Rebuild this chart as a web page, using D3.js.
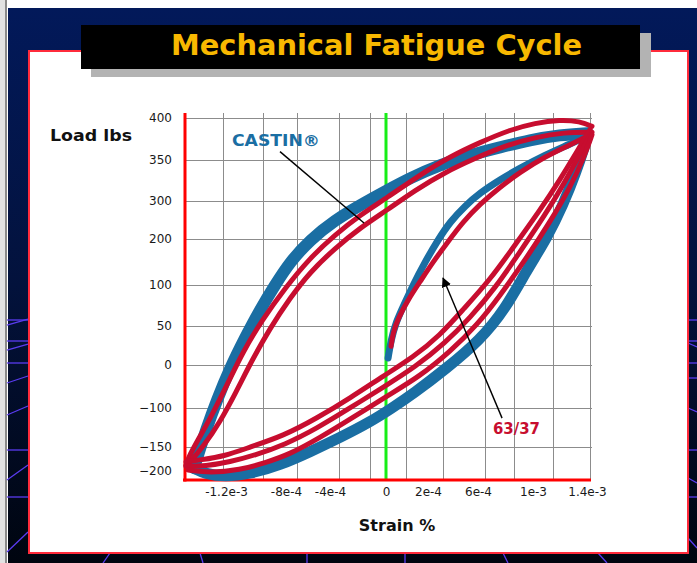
<!DOCTYPE html>
<meta charset="utf-8">
<script src="https://d3js.org/d3.v7.min.js"></script>
<style>
    body { margin: 0; background: #fff; }
    svg { display: block; }
</style>
<div id="chart"></div>
<script>
    // axis ticks (the original slide uses uneven tick steps)
    var xTicks = [-12e-4, -8e-4, -4e-4, 0, 2e-4, 6e-4, 10e-4, 14e-4];
    var xTickLabels = ["-1.2e-3", "-8e-4", "-4e-4", "0", "2e-4", "6e-4", "1e-3", "1.4e-3"];
    var yTicks = [-200, -150, -100, 0, 50, 100, 200, 300, 350, 400];
    var xGrid = [-12.2e-4, -9.53e-4, -7.0e-4, -3.36e-4, -1.14e-4, 0.95e-4, 3.2e-4, 6.51e-4, 8.62e-4, 11.48e-4, 14.22e-4];

    // CASTIN loops  [strain, load lbs]
    var castinVirgin = [[0.1e-4, 9], [0.24e-4, 32], [0.48e-4, 55], [0.86e-4, 76], [1.29e-4, 100], [1.86e-4, 150], [2.8e-4, 198],
        [3.76e-4, 245], [4.96e-4, 287], [6.15e-4, 310], [7.6e-4, 326], [9.05e-4, 340], [10.89e-4, 356], [12.74e-4, 369], [14.07e-4, 379]];
    var castinUpper = [[14.07e-4, 382], [12.0e-4, 380], [9.78e-4, 374], [7.6e-4, 365], [5.36e-4, 356], [2.96e-4, 344], [1.14e-4, 328],
        [0.05e-4, 313], [-1.86e-4, 289], [-3.64e-4, 250], [-5.82e-4, 198], [-7.64e-4, 150], [-8.73e-4, 100], [-9.73e-4, 70],
        [-10.73e-4, 35], [-11.73e-4, -7], [-12.6e-4, -81], [-13.33e-4, -128], [-13.87e-4, -167], [-14.13e-4, -194]];
    var castinLower = [[-14.13e-4, -194], [-13.4e-4, -206], [-12.07e-4, -212], [-10.4e-4, -206], [-8.4e-4, -188], [-5.82e-4, -160],
        [-3.29e-4, -138], [-1.14e-4, -118], [0.29e-4, -100], [1.29e-4, -67], [3.52e-4, -7], [6.15e-4, 32], [7.96e-4, 70],
        [9.56e-4, 133], [11.04e-4, 203], [12.22e-4, 289], [13.19e-4, 335], [13.85e-4, 368], [14.07e-4, 380]];

    // 63/37 loops
    var sn63Virgin = [[0.24e-4, 24], [0.33e-4, 41], [0.57e-4, 59], [1.05e-4, 82], [1.62e-4, 107], [2.4e-4, 150], [3.52e-4, 191],
        [4.8e-4, 245], [6.15e-4, 292], [7.6e-4, 317], [9.05e-4, 335], [10.89e-4, 354], [12.74e-4, 368], [14.22e-4, 380]];
    var sn63Upper1 = [[14.37e-4, 390], [13.48e-4, 396], [12.0e-4, 398], [10.15e-4, 394], [8.33e-4, 386], [6.15e-4, 371], [3.76e-4, 354],
        [1.62e-4, 332], [0.05e-4, 304], [-1.86e-4, 263], [-3.64e-4, 211], [-5.82e-4, 159], [-8.07e-4, 96], [-9.6e-4, 57],
        [-10.87e-4, 17], [-11.87e-4, -42], [-12.93e-4, -109], [-13.87e-4, -141], [-14.53e-4, -173], [-14.67e-4, -188]];
    var sn63Upper2 = [[14.22e-4, 383], [12.37e-4, 383], [10.15e-4, 377], [7.96e-4, 367], [5.76e-4, 352], [3.36e-4, 335], [1.38e-4, 313],
        [0.05e-4, 276], [-1.86e-4, 229], [-3.64e-4, 180], [-5.82e-4, 128], [-7.64e-4, 84], [-9.07e-4, 47], [-10.27e-4, 6],
        [-11.33e-4, -63], [-12.4e-4, -118], [-13.53e-4, -150], [-14.4e-4, -181]];
    var sn63Lower1 = [[-14.67e-4, -181], [-13.73e-4, -177], [-12.07e-4, -169], [-10.4e-4, -150], [-8.2e-4, -136], [-5.18e-4, -113],
        [-2.57e-4, -77], [-0.07e-4, -23], [1.29e-4, 10], [2.96e-4, 38], [4.8e-4, 70], [6.87e-4, 111], [8.69e-4, 187],
        [10.52e-4, 276], [12.0e-4, 326], [13.33e-4, 362], [14.22e-4, 386]];
    var sn63Lower2 = [[-14.67e-4, -190], [-13.4e-4, -190], [-11.73e-4, -181], [-10.07e-4, -167], [-8.07e-4, -147], [-5.18e-4, -126],
        [-2.57e-4, -100], [-0.07e-4, -49], [1.38e-4, -5], [3.36e-4, 28], [5.36e-4, 60], [7.24e-4, 96], [9.05e-4, 172],
        [10.89e-4, 263], [12.37e-4, 323], [13.63e-4, 362], [14.37e-4, 383]];
    var sn63Lower3 = [[-14.53e-4, -198], [-13.07e-4, -204], [-11.07e-4, -198], [-9.4e-4, -183], [-7.64e-4, -165], [-4.91e-4, -138],
        [-2.43e-4, -113], [0.05e-4, -72], [1.62e-4, -26], [3.76e-4, 17], [5.92e-4, 51], [7.6e-4, 87], [9.42e-4, 154],
        [11.26e-4, 245], [12.74e-4, 316], [13.85e-4, 356], [14.37e-4, 380]];

    var blue = "#1a6ea3",
        red = "#c70d2f";

    var width = 697,
        height = 563;

    var svg = d3.select("#chart")
        .append("svg")
        .attr("width", width)
        .attr("height", height);

    // slide background
    svg.append("rect").attr("width", width).attr("height", height).attr("fill", "#fff");
    svg.append("rect").attr("width", 5).attr("height", height).attr("fill", "#e2e2e2");
    svg.append("rect").attr("x", 5).attr("width", 2).attr("height", height).attr("fill", "#8a8a8a");

    var defs = svg.append("defs");
    var grad = defs.append("linearGradient").attr("id", "navy")
        .attr("x1", 0).attr("y1", 0).attr("x2", 0).attr("y2", 1);
    grad.append("stop").attr("offset", "0%").attr("stop-color", "#02195a");
    grad.append("stop").attr("offset", "50%").attr("stop-color", "#03123c");
    grad.append("stop").attr("offset", "100%").attr("stop-color", "#00050f");
    svg.append("rect")
        .attr("x", 8).attr("y", 8)
        .attr("width", width - 8).attr("height", height - 8)
        .attr("fill", "url(#navy)");

    // perspective grid lines of the slide template
    var deco = [[7, 320, 28, 320], [7, 341, 28, 341], [7, 363, 28, 363], [7, 450, 28, 450], [7, 497, 28, 497],
        [7, 325, 28, 319], [7, 350, 28, 344], [7, 383, 28, 376], [7, 415, 28, 406], [7, 480, 28, 465], [7, 552, 28, 532],
        [688, 320, 697, 320], [688, 341, 697, 341], [688, 363, 697, 363], [688, 378, 697, 378], [688, 450, 697, 450],
        [688, 497, 697, 497], [688, 343, 697, 347], [688, 408, 697, 412], [688, 478, 697, 483], [688, 538, 697, 548],
        [110, 553, 103, 563], [200, 553, 203, 563], [307, 553, 307, 563], [405, 553, 405, 563], [503, 553, 508, 563],
        [598, 553, 607, 563]];
    svg.append("g")
        .selectAll("line")
        .data(deco)
        .join("line")
        .attr("x1", function(d) { return d[0]; })
        .attr("y1", function(d) { return d[1]; })
        .attr("x2", function(d) { return d[2]; })
        .attr("y2", function(d) { return d[3]; })
        .attr("stroke", "#5a3cf0")
        .attr("stroke-width", 1.3);

    // white panel
    svg.append("rect")
        .attr("x", 29).attr("y", 51)
        .attr("width", 659).attr("height", 502)
        .attr("fill", "#fff")
        .attr("stroke", "#ff2b3b")
        .attr("stroke-width", 2);

    // title box with shadow
    svg.append("rect").attr("x", 91).attr("y", 33).attr("width", 560).attr("height", 44).attr("fill", "#b3b3b3");
    svg.append("rect").attr("x", 81).attr("y", 25).attr("width", 559).attr("height", 44).attr("fill", "#000");
    svg.append("text")
        .attr("x", 376.5)
        .attr("y", 55)
        .attr("text-anchor", "middle")
        .attr("textLength", 411)
        .attr("lengthAdjust", "spacingAndGlyphs")
        .style("font-family", "DejaVu Sans")
        .style("font-weight", "bold")
        .style("font-size", "28px")
        .attr("fill", "#f8b800")
        .text("Mechanical Fatigue Cycle");

    // chart area
    var plot = { left: 185, right: 592, top: 113, bottom: 480 };

    var x = d3.scaleLinear()
        .domain(xTicks)
        .range([226, 286, 330, 386, 428, 478, 533, 587]);
    var y = d3.scaleLinear()
        .domain(yTicks)
        .range([471, 447, 408, 365, 326, 285, 239, 201, 160, 118]);

    // grid
    svg.append("g")
        .selectAll("line")
        .data(xGrid)
        .join("line")
        .attr("x1", function(d) { return Math.round(x(d)) + 0.5; })
        .attr("x2", function(d) { return Math.round(x(d)) + 0.5; })
        .attr("y1", plot.top)
        .attr("y2", plot.bottom)
        .attr("stroke", "#8c8c8c")
        .attr("stroke-width", 1);
    svg.append("g")
        .selectAll("line")
        .data(yTicks.filter(function(d) { return d > -200; }))
        .join("line")
        .attr("x1", plot.left)
        .attr("x2", plot.right)
        .attr("y1", function(d) { return Math.round(y(d)) + 0.5; })
        .attr("y2", function(d) { return Math.round(y(d)) + 0.5; })
        .attr("stroke", "#8c8c8c")
        .attr("stroke-width", 1);

    // zero strain line
    svg.append("line")
        .attr("x1", x(0)).attr("x2", x(0))
        .attr("y1", plot.top).attr("y2", plot.bottom)
        .attr("stroke", "#17ee17")
        .attr("stroke-width", 3);

    // axis lines
    svg.append("line")
        .attr("x1", plot.left).attr("x2", plot.left)
        .attr("y1", plot.top).attr("y2", plot.bottom + 1.5)
        .attr("stroke", "#ff0000").attr("stroke-width", 3);
    svg.append("line")
        .attr("x1", plot.left - 2).attr("x2", plot.right - 1)
        .attr("y1", plot.bottom).attr("y2", plot.bottom)
        .attr("stroke", "#ff0000").attr("stroke-width", 3);

    // hysteresis loops
    var line = d3.line()
        .x(function(d) { return x(d[0]); })
        .y(function(d) { return y(d[1]); })
        .curve(d3.curveBasis);

    var curves = [
        { data: castinUpper, color: blue, w: 12 },
        { data: castinLower, color: blue, w: 11 },
        { data: castinVirgin, color: blue, w: 7 },
        { data: sn63Virgin, color: red, w: 5 },
        { data: sn63Upper1, color: red, w: 5 },
        { data: sn63Upper2, color: red, w: 5 },
        { data: sn63Lower1, color: red, w: 5 },
        { data: sn63Lower2, color: red, w: 5 },
        { data: sn63Lower3, color: red, w: 5 }
    ];
    svg.append("g")
        .selectAll("path")
        .data(curves)
        .join("path")
        .attr("d", function(d) { return line(d.data); })
        .attr("fill", "none")
        .attr("stroke", function(d) { return d.color; })
        .attr("stroke-width", function(d) { return d.w; })
        .attr("stroke-linecap", "round")
        .attr("stroke-linejoin", "round");

    // tick labels
    var gx = svg.append("g")
        .attr("transform", "translate(0," + plot.bottom + ")")
        .call(d3.axisBottom(x)
            .tickValues(xTicks)
            .tickSize(0)
            .tickPadding(7)
            .tickFormat(function(d, i) { return xTickLabels[i]; }));
    var gy = svg.append("g")
        .attr("transform", "translate(" + plot.left + ",0)")
        .call(d3.axisLeft(y)
            .tickValues(yTicks)
            .tickSize(0)
            .tickPadding(13));
    [gx, gy].forEach(function(g) {
        g.select(".domain").remove();
        g.selectAll("text")
            .style("font-family", "DejaVu Sans")
            .style("font-size", "12px")
            .attr("fill", "#1a1a1a");
    });

    // axis titles
    svg.append("text")
        .attr("x", 50)
        .attr("y", 141)
        .attr("textLength", 82)
        .attr("lengthAdjust", "spacingAndGlyphs")
        .style("font-family", "DejaVu Sans")
        .style("font-weight", "bold")
        .style("font-size", "15px")
        .attr("fill", "#111")
        .text("Load lbs");
    svg.append("text")
        .attr("x", 397)
        .attr("y", 531)
        .attr("text-anchor", "middle")
        .style("font-family", "DejaVu Sans")
        .style("font-weight", "bold")
        .style("font-size", "16px")
        .attr("fill", "#111")
        .text("Strain %");

    // callouts
    defs.append("marker")
        .attr("id", "arrow")
        .attr("viewBox", "0 0 10 10")
        .attr("refX", 9).attr("refY", 5)
        .attr("markerWidth", 7).attr("markerHeight", 7)
        .attr("orient", "auto")
        .append("path")
        .attr("d", "M0,0 L10,5 L0,10 z")
        .attr("fill", "#000");

    svg.append("line")
        .attr("x1", x(-8.4e-4)).attr("y1", y(360))
        .attr("x2", x(-1.57e-4)).attr("y2", y(242))
        .attr("stroke", "#000").attr("stroke-width", 1.4);
    svg.append("line")
        .attr("x1", x(7.75e-4)).attr("y1", y(-113))
        .attr("x2", x(3.2e-4)).attr("y2", y(115))
        .attr("stroke", "#000").attr("stroke-width", 1.4)
        .attr("marker-end", "url(#arrow)");

    svg.append("text")
        .attr("x", x(-11.6e-4))
        .attr("y", y(373))
        .attr("dy", "0.35em")
        .attr("textLength", 88)
        .attr("lengthAdjust", "spacingAndGlyphs")
        .style("font-family", "DejaVu Sans")
        .style("font-weight", "bold")
        .style("font-size", "15px")
        .attr("fill", blue)
        .text("CASTIN®");
    svg.append("text")
        .attr("x", x(7.09e-4))
        .attr("y", y(-126))
        .attr("dy", "0.35em")
        .attr("textLength", 47)
        .attr("lengthAdjust", "spacingAndGlyphs")
        .style("font-family", "DejaVu Sans")
        .style("font-weight", "bold")
        .style("font-size", "15px")
        .attr("fill", red)
        .text("63/37");
</script>
